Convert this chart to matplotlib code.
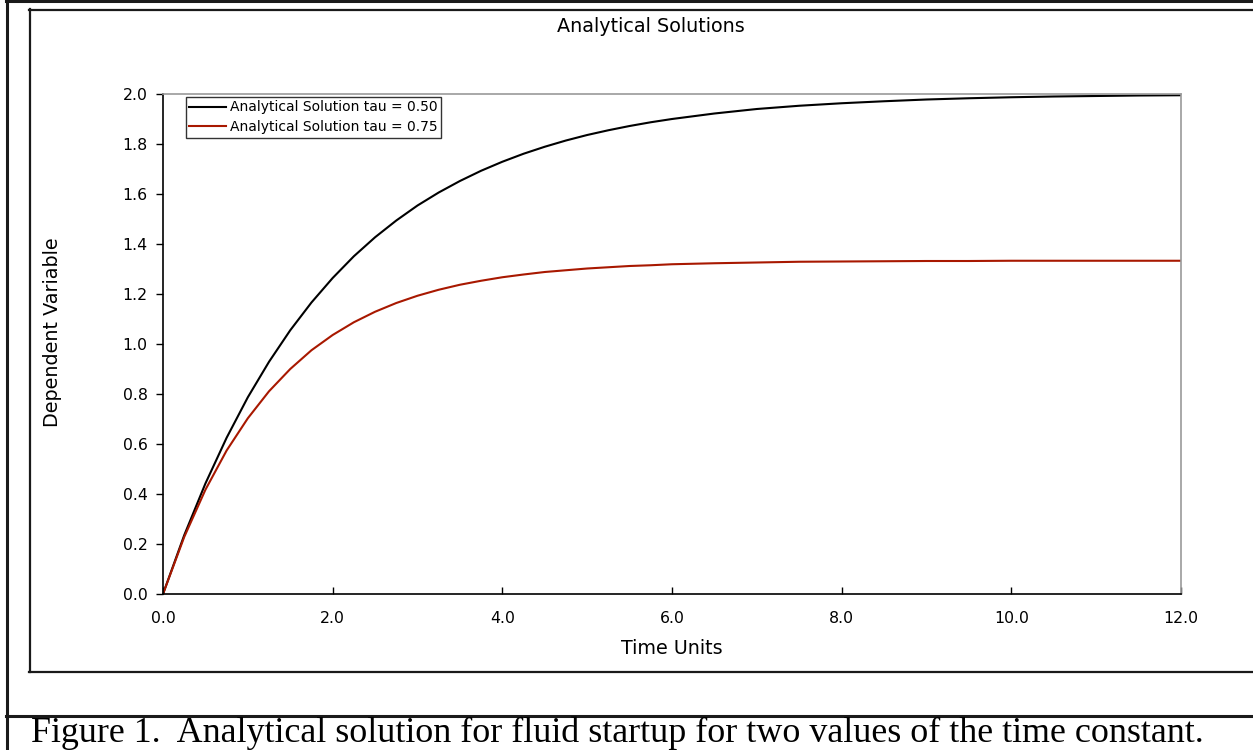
import matplotlib
matplotlib.use("Agg")
import matplotlib.pyplot as plt
from matplotlib.lines import Line2D

plt.rcParams['font.family'] = ['DejaVu Sans']
plt.rcParams['font.sans-serif'] = ['DejaVu Sans']

# Data
time = [0.0, 0.25, 0.5, 0.75, 1.0, 1.25, 1.5, 1.75, 2.0, 2.25, 2.5, 2.75, 3.0,
        3.25, 3.5, 3.75, 4.0, 4.25, 4.5, 4.75, 5.0, 5.25, 5.5, 5.75, 6.0,
        6.5, 7.0, 7.5, 8.0, 8.5, 9.0, 9.5, 10.0, 10.5, 11.0, 11.5, 12.0]
tau_050 = [0.0, 0.235, 0.442, 0.625, 0.787, 0.929, 1.055, 1.166, 1.264, 1.351,
           1.427, 1.494, 1.554, 1.606, 1.652, 1.693, 1.729, 1.761, 1.789, 1.814,
           1.836, 1.855, 1.872, 1.887, 1.900, 1.922, 1.940, 1.953, 1.963, 1.971,
           1.978, 1.983, 1.987, 1.990, 1.992, 1.994, 1.995]
tau_075 = [0.0, 0.228, 0.417, 0.574, 0.703, 0.811, 0.900, 0.975, 1.036, 1.087,
           1.129, 1.164, 1.193, 1.217, 1.237, 1.253, 1.267, 1.278, 1.288, 1.295,
           1.302, 1.307, 1.312, 1.315, 1.319, 1.323, 1.326, 1.329, 1.330, 1.331,
           1.332, 1.332, 1.333, 1.333, 1.333, 1.333, 1.333]
labels = ["Analytical Solution tau = 0.50", "Analytical Solution tau = 0.75"]
xticks = [0, 2, 4, 6, 8, 10, 12]
yticks = [0.0, 0.2, 0.4, 0.6, 0.8, 1.0, 1.2, 1.4, 1.6, 1.8, 2.0]

W, H = 1253, 750
fig = plt.figure(figsize=(W / 100, H / 100), dpi=100)

def fx(px):
    return px / W

def fy(py):
    return 1 - py / H

ax = fig.add_axes([fx(163), fy(594), fx(1181) - fx(163), fy(94) - fy(594)])
ax.plot(time, tau_050, color='black', lw=1.5, label=labels[0])
ax.plot(time, tau_075, color='#A81800', lw=1.5, label=labels[1])
ax.set_xlim(0, 12)
ax.set_ylim(0, 2.0)
ax.set_xticks(xticks)
ax.set_xticklabels([f"{v:.1f}" for v in xticks])
ax.set_yticks(yticks)
ax.set_yticklabels([f"{v:.1f}" for v in yticks])
ax.tick_params(axis='x', direction='in', length=5, width=1, pad=12.5, labelsize=11.3)
ax.tick_params(axis='y', direction='out', length=5, width=1, pad=6, labelsize=11.3)
for s in ['top', 'right']:
    ax.spines[s].set_color('#9a9a9a')
    ax.spines[s].set_linewidth(1.2)
for s in ['left', 'bottom']:
    ax.spines[s].set_color('black')
    ax.spines[s].set_linewidth(1.2)

leg = ax.legend(loc='upper left', bbox_to_anchor=((186 - 163) / 1018, (594 - 97) / 500),
                borderaxespad=0, fontsize=10, frameon=True, fancybox=False,
                handlelength=2.6, handletextpad=0.3, borderpad=0.25, labelspacing=0.42)
leg.get_frame().set_edgecolor('black')
leg.get_frame().set_linewidth(1.0)

fig.text(fx(651), fy(27), "Analytical Solutions", ha='center', va='center', fontsize=13.8)
fig.text(fx(53), fy(332), "Dependent Variable", ha='center', va='center', rotation=90, fontsize=13.8)
fig.text(fx(672), fy(648), "Time Units", ha='center', va='center', fontsize=13.8)

# Frames
def hline(y, x0, x1, lw):
    fig.add_artist(Line2D([fx(x0), fx(x1)], [fy(y), fy(y)], color='#1a1a1a', lw=lw))

def vline(x, y0, y1, lw):
    fig.add_artist(Line2D([fx(x), fx(x)], [fy(y0), fy(y1)], color='#1a1a1a', lw=lw))

hline(1, 6, W, 2.2)
vline(7, 0, H, 2.2)
hline(9.5, 29, W, 1.6)
vline(29.5, 9, 672, 1.6)
hline(672, 29, W, 1.6)
hline(716, 6, W, 2.2)

fig.text(fx(617), fy(733), "Figure 1.  Analytical solution for fluid startup for two values of the time constant.",
         ha='center', va='center', fontsize=25.9, family=['Liberation Serif'])

fig.savefig("out.png", dpi=100)
